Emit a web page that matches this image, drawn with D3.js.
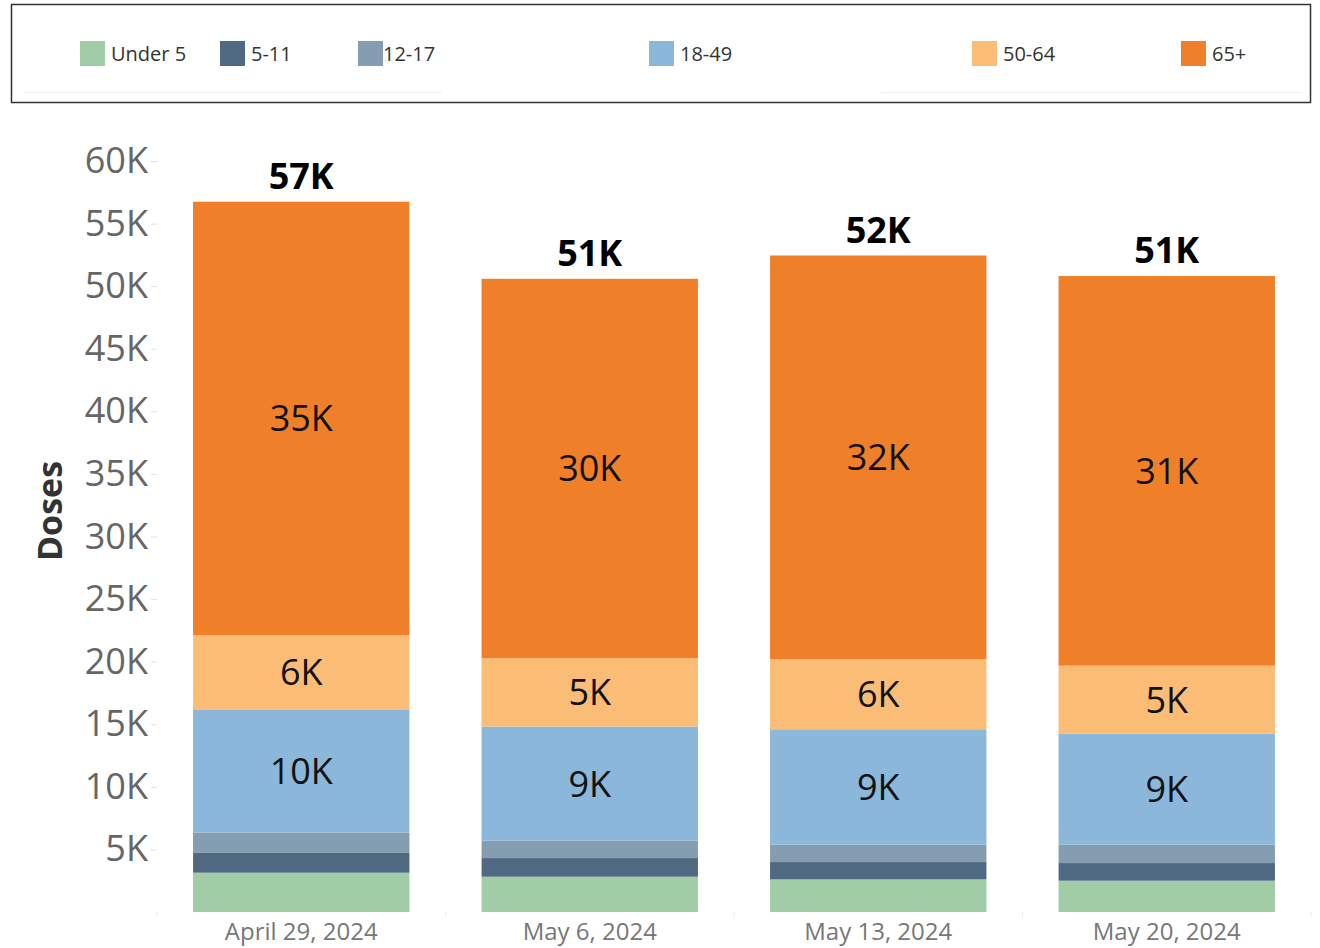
<!DOCTYPE html>
<html>
<head>
<meta charset="utf-8">
<script src="https://cdn.jsdelivr.net/npm/d3@7"></script>
<style>
  body { margin: 0; background: #fff; }
  svg text { font-family: "Open Sans", "Noto Sans", sans-serif; }
</style>
</head>
<body>
<div id="chart"></div>
<script>
const weeks = ["April 29, 2024", "May 6, 2024", "May 13, 2024", "May 20, 2024"];
const ageGroups = ["Under 5", "5-11", "12-17", "18-49", "50-64", "65+"];
// doses per week
const under5    = [3140, 2820, 2610, 2500];
const age5to11  = [1620, 1490, 1380, 1410];
const age12to17 = [1580, 1390, 1390, 1470];
const age18to49 = [9850, 9120, 9220, 8860];
const age50to64 = [5940, 5460, 5610, 5440];
const age65plus = [34620, 30310, 32240, 31130];
const yTicks = [5000, 10000, 15000, 20000, 25000, 30000, 35000, 40000, 45000, 50000, 55000, 60000];

const colors = ["#a0cca6", "#4e6981", "#859db0", "#8ab7da", "#fbbd76", "#f07f29"];
// legend swatch x positions (layout)
const legendX = [80, 220, 358, 649, 972, 1181];

let w = 1320, h = 948;
let svg = d3.select("#chart").append("svg")
  .attr("width", w)
  .attr("height", h);

// ---- legend ----
svg.append("rect")
  .attr("x", 11.5).attr("y", 4.5)
  .attr("width", 1299).attr("height", 98)
  .attr("fill", "none")
  .attr("stroke", "#333")
  .attr("stroke-width", 1.5);
svg.append("line").attr("x1", 23).attr("x2", 442).attr("y1", 92.5).attr("y2", 92.5)
  .attr("stroke", "#f0f0f0");
svg.append("line").attr("x1", 881).attr("x2", 1300).attr("y1", 92.5).attr("y2", 92.5)
  .attr("stroke", "#f0f0f0");

let legend = svg.selectAll(".legend").data(ageGroups).enter().append("g")
  .attr("class", "legend")
  .attr("transform", (d, i) => `translate(${legendX[i]},41)`);
legend.append("rect")
  .attr("width", 25).attr("height", 25)
  .attr("fill", (d, i) => colors[i]);
legend.append("text")
  .attr("x", (d, i) => i == 2 ? 25 : 31)
  .attr("y", 20)
  .attr("font-size", 20)
  .attr("fill", "#333")
  .text(d => d);

// ---- chart ----
let series = [under5, age5to11, age12to17, age18to49, age50to64, age65plus];
let rows = weeks.map((wk, i) => {
  let r = { week: wk };
  ageGroups.forEach((g, j) => r[g] = series[j][i]);
  return r;
});
let stacked = d3.stack().keys(ageGroups)(rows);

let x = d3.scaleBand().domain(weeks).range([157, 1311])
  .paddingInner(0.25).paddingOuter(0.125);
let y = d3.scaleLinear().domain([0, 60000]).range([912, 161]);

let fmtK = v => Math.round(v / 1000) + "K";

// y axis
let yAxis = svg.append("g")
  .attr("transform", "translate(157,0)")
  .call(d3.axisLeft(y).tickValues(yTicks).tickSize(6).tickPadding(3).tickFormat(fmtK));
yAxis.select(".domain").remove();
yAxis.selectAll(".tick line").attr("stroke", "#e2e2e2");
yAxis.selectAll(".tick text")
  .attr("font-size", 36)
  .attr("fill", "#666")
  .style("font-family", '"Open Sans", sans-serif');

svg.append("text")
  .attr("transform", "translate(62,511) rotate(-90)")
  .attr("text-anchor", "middle")
  .attr("font-size", 34)
  .attr("font-weight", 700)
  .attr("fill", "#333")
  .text("Doses");

// bars
let layers = svg.selectAll(".layer").data(stacked).enter().append("g")
  .attr("class", "layer")
  .attr("fill", (d, i) => colors[i]);
layers.selectAll("rect").data(d => d).enter().append("rect")
  .attr("x", d => x(d.data.week))
  .attr("width", x.bandwidth())
  .attr("y", d => y(d[1]))
  .attr("height", d => y(d[0]) - y(d[1]));

// segment labels for large segments
layers.selectAll(".seg").data(d => d.filter(s => y(s[0]) - y(s[1]) > 40)).enter().append("text")
  .attr("class", "seg")
  .attr("x", d => x(d.data.week) + x.bandwidth() / 2)
  .attr("y", d => (y(d[0]) + y(d[1])) / 2)
  .attr("dy", "0.36em")
  .attr("text-anchor", "middle")
  .attr("font-size", 36)
  .attr("fill", "#111")
  .text(d => fmtK(d[1] - d[0]));

// totals
let topLayer = stacked[stacked.length - 1];
svg.selectAll(".total").data(topLayer).enter().append("text")
  .attr("class", "total")
  .attr("x", d => x(d.data.week) + x.bandwidth() / 2)
  .attr("y", d => y(d[1]) - 13)
  .attr("text-anchor", "middle")
  .attr("font-size", 36)
  .attr("font-weight", 700)
  .attr("fill", "#000")
  .text(d => fmtK(d[1]));

// x axis labels
let xAxis = svg.append("g")
  .attr("transform", "translate(0,912)")
  .call(d3.axisBottom(x).tickSize(0).tickPadding(8));
xAxis.select(".domain").remove();
xAxis.selectAll(".tick text")
  .attr("font-size", 24)
  .attr("fill", "#777")
  .attr("dy", "0.82em")
  .style("font-family", '"Open Sans", sans-serif');

// faint band separators along the baseline
let seps = [x.range()[0]].concat(weeks.map(d => x(d) + x.bandwidth() + x.step() * x.paddingInner() / 2));
svg.selectAll(".sep").data(seps).enter().append("line")
  .attr("class", "sep")
  .attr("x1", d => d).attr("x2", d => d)
  .attr("y1", 912).attr("y2", 917)
  .attr("stroke", "#ececec");
</script>
</body>
</html>
